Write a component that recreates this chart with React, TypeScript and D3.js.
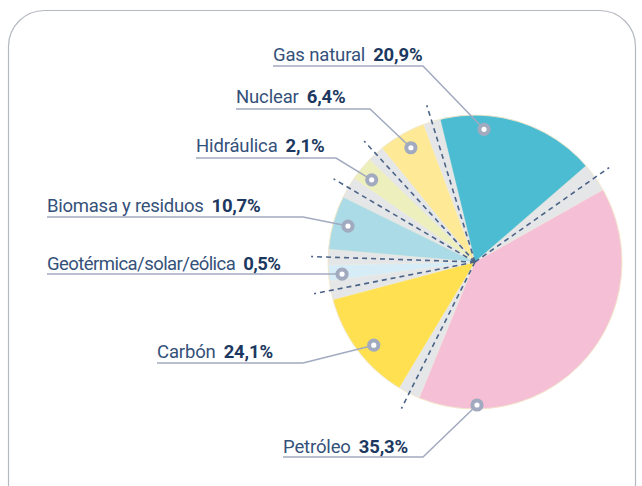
import React from 'react';
import * as d3 from 'd3';

// ---- data ----
const categories = [
  'Gas natural',
  'Petróleo',
  'Carbón',
  'Geotérmica/solar/eólica',
  'Biomasa y residuos',
  'Hidráulica',
  'Nuclear',
];
const shareValues = [20.9, 35.3, 24.1, 0.5, 10.7, 2.1, 6.4];
// angular extent (degrees) each coloured slice actually occupies in the drawing
const drawnSliceDeg = [62.8, 141.7, 44.1, 6.2, 21.2, 9.5, 18.7];
// grey separator following each slice (degrees)
const gapAfterDeg = [11.5, 8.7, 7.5, 6.2, 8.5, 6.6, 6.8];

// ---- styles ----
const sliceColors = ['#4cbcd3', '#f5bfd6', '#fee050', '#d6ecf7', '#aadbe6', '#edf0bd', '#fde996'];
const GAP_FILL = '#e5e6e8';
const DASH = '#4b6488';
const LEADER = '#a2aac0';
const NAME_COLOR = '#34517a';
const PCT_COLOR = '#1c3860';

// ---- layout ----
const W = 642;
const H = 486;
const CX = 475;
const CY = 262;
const R = 147;
const START_DEG = -13.7;

const labelLayout = [
  { x: 273, base: 61, ul: 66, elbowX: 423, mDeg: 3.9, mR: 133, ls: -0.15 },
  { x: 283, base: 453, ul: 457, elbowX: 423, mDeg: 179.2, mR: 143, ls: -0.15 },
  { x: 157, base: 358, ul: 363, elbowX: 303, mDeg: 230.6, mR: 131, ls: -0.15 },
  { x: 47, base: 270, ul: 274, elbowX: null as number | null, mDeg: 264.8, mR: 133.5, ls: -0.55 },
  { x: 47, base: 212, ul: 217, elbowX: 303, mDeg: 285.8, mR: 132, ls: -0.25 },
  { x: 196, base: 152, ul: 158, elbowX: 336, mDeg: 308.5, mR: 132, ls: -0.15 },
  { x: 236, base: 103, ul: 109, elbowX: 370, mDeg: 330.7, mR: 131, ls: -0.15 },
];

const fmt = (v: number) => v.toFixed(1).replace('.', ',') + '%';
const rad = (d: number) => (d * Math.PI) / 180;

export default function App() {
  const seq: { kind: 'slice' | 'gap'; i: number; v: number }[] = [];
  categories.forEach((_, i) => {
    seq.push({ kind: 'slice', i, v: drawnSliceDeg[i] });
    seq.push({ kind: 'gap', i, v: gapAfterDeg[i] });
  });
  const pie = d3
    .pie<{ kind: string; i: number; v: number }>()
    .sort(null)
    .value((d) => d.v)
    .startAngle(rad(START_DEG))
    .endAngle(rad(START_DEG) + 2 * Math.PI);
  const arcs = pie(seq);
  const arcGen = d3.arc<d3.PieArcDatum<any>>().innerRadius(0).outerRadius(R);

  const polar = (angRad: number, r: number): [number, number] => [
    CX + r * Math.sin(angRad),
    CY - r * Math.cos(angRad),
  ];

  return (
    <svg
      width={W}
      height={H}
      style={{ position: 'absolute', left: 0, top: 0, background: '#fff' }}
      fontFamily="Roboto, 'Liberation Sans', sans-serif"
    >
      <rect x={8.5} y={10.5} width={627} height={520} rx={36} ry={36} fill="none" stroke="#b4b8c0" strokeWidth={1.2} />

      <g transform={`translate(${CX},${CY})`}>
        <circle r={R} fill={GAP_FILL} />
        {arcs
          .filter((a) => a.data.kind === 'slice')
          .map((a) => (
            <path key={'s' + a.data.i} d={arcGen(a) || ''} fill={sliceColors[a.data.i]} stroke="#f6efd8" strokeWidth={0.4} />
          ))}
        <circle r={R} fill="none" stroke="#f3e6c8" strokeWidth={0.8} />
      </g>

      {arcs
        .filter((a) => a.data.kind === 'gap')
        .map((a) => {
          const mid = (a.startAngle + a.endAngle) / 2;
          const [x2, y2] = polar(mid, 164);
          return (
            <line key={'d' + a.data.i} x1={CX} y1={CY} x2={x2} y2={y2} stroke={DASH} strokeWidth={1.6} strokeDasharray="5,4" />
          );
        })}

      {categories.map((c, i) => {
        const L = labelLayout[i];
        const [mx, my] = polar(rad(L.mDeg), L.mR);
        const pts: [number, number][] = [[L.x, L.ul]];
        if (L.elbowX !== null) pts.push([L.elbowX, L.ul]);
        pts.push([mx, my]);
        const line = d3.line()(pts) || '';
        return (
          <g key={'l' + i}>
            <path d={line} fill="none" stroke={LEADER} strokeWidth={1.5} />
            <circle cx={mx} cy={my} r={4.6} fill="#fff" stroke={LEADER} strokeWidth={4} />
            <text x={L.x} y={L.base} fontSize={18.5} letterSpacing={L.ls}>
              <tspan fill={NAME_COLOR}>{c}</tspan>
              <tspan dx={8} fill={PCT_COLOR} fontWeight="bold">
                {fmt(shareValues[i])}
              </tspan>
            </text>
          </g>
        );
      })}
    </svg>
  );
}
